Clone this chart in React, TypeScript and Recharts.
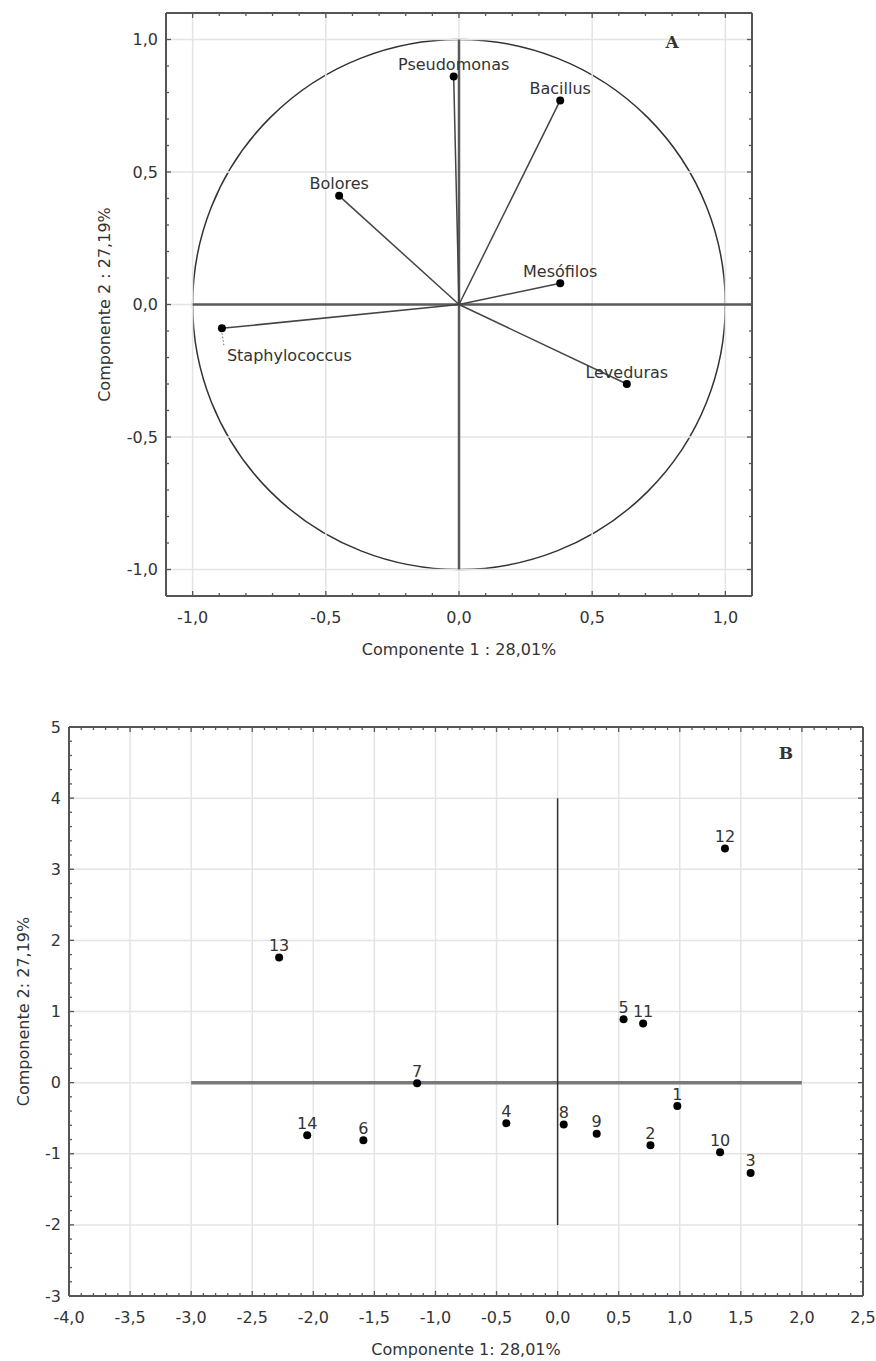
import React from 'react';
import { ScatterChart, Scatter, XAxis, YAxis, ReferenceLine, ReferenceArea, ReferenceDot, Label } from 'recharts';

const FONT = '"DejaVu Sans", "Liberation Sans", sans-serif';
const TEXT = '#333';
const FRAME = '#555';

// ---------- Chart A: loadings ----------
const loadingNames = ['Pseudomonas', 'Bacillus', 'Bolores', 'Mesófilos', 'Staphylococcus', 'Leveduras'];
const loadingPc1 = [-0.02, 0.38, -0.45, 0.38, -0.89, 0.63];
const loadingPc2 = [0.86, 0.77, 0.41, 0.08, -0.09, -0.3];
const majorTicksA = [-1, -0.5, 0, 0.5, 1];
const domainA: [number, number] = [-1.1, 1.1];

// ---------- Chart B: scores ----------
const sampleLabels = ['1', '2', '3', '4', '5', '6', '7', '8', '9', '10', '11', '12', '13', '14'];
const scorePc1 = [0.98, 0.76, 1.58, -0.42, 0.54, -1.59, -1.15, 0.05, 0.32, 1.33, 0.7, 1.37, -2.28, -2.05];
const scorePc2 = [-0.33, -0.88, -1.27, -0.57, 0.89, -0.81, -0.01, -0.59, -0.72, -0.98, 0.83, 3.29, 1.76, -0.74];
const majorTicksBx = [-4, -3.5, -3, -2.5, -2, -1.5, -1, -0.5, 0, 0.5, 1, 1.5, 2, 2.5];
const majorTicksBy = [-3, -2, -1, 0, 1, 2, 3, 4, 5];
const domainBx: [number, number] = [-4, 2.5];
const domainBy: [number, number] = [-3, 5];

const steps = (from: number, to: number, step: number) => {
  const out: number[] = [];
  const n = Math.round((to - from) / step);
  for (let i = 0; i <= n; i++) out.push(Math.round((from + i * step) * 1000) / 1000);
  return out;
};

const minorTicksA = steps(-1.1, 1.1, 0.1);
const minorTicksBx = steps(-4, 2.5, 0.1);
const minorTicksBy = steps(-3, 5, 0.2);

const fmt1 = (v: number) => v.toFixed(1).replace('.', ',');
const fmt0 = (v: number) => String(Math.round(v));

const loadingData = loadingNames.map((name, i) => ({ name, x: loadingPc1[i], y: loadingPc2[i] }));
const scoreData = sampleLabels.map((name, i) => ({ name, x: scorePc1[i], y: scorePc2[i] }));

type Side = 'bottom' | 'top' | 'left' | 'right';

const makeTick = (side: Side, majors: number[], fmt: (v: number) => string, showLabel: boolean) =>
  (props: any) => {
    const { x, y, payload } = props;
    const v = payload.value as number;
    const isMajor = majors.some((m) => Math.abs(m - v) < 1e-6);
    const len = isMajor ? 5 : 3;
    let x2 = x;
    let y2 = y;
    if (side === 'bottom') y2 = y - len;
    if (side === 'top') y2 = y + len;
    if (side === 'left') x2 = x + len;
    if (side === 'right') x2 = x - len;
    return (
      <g>
        <line x1={x} y1={y} x2={x2} y2={y2} stroke={FRAME} strokeWidth={1.3} />
        {showLabel && isMajor && side === 'bottom' && (
          <text x={x} y={y + 21} textAnchor="middle" dominantBaseline="central" fontFamily={FONT} fontSize={16} fill={TEXT}>
            {fmt(v)}
          </text>
        )}
        {showLabel && isMajor && side === 'left' && (
          <text x={x - 8} y={y} textAnchor="end" dominantBaseline="central" fontFamily={FONT} fontSize={16} fill={TEXT}>
            {fmt(v)}
          </text>
        )}
      </g>
    );
  };

const xTitle = (text: string) => (p: any) => {
  const vb = p.viewBox || { x: 0, y: 0, width: 0, height: 0 };
  return (
    <text x={vb.x + vb.width / 2} y={vb.y + 53} textAnchor="middle" dominantBaseline="central" fontFamily={FONT} fontSize={16} fill={TEXT}>
      {text}
    </text>
  );
};

const yTitle = (text: string, dx: number) => (p: any) => {
  const vb = p.viewBox || { x: 0, y: 0, width: 0, height: 0 };
  const cx = vb.x + vb.width + dx;
  const cy = vb.y + vb.height / 2;
  return (
    <text x={cx} y={cy} transform={`rotate(-90 ${cx} ${cy})`} textAnchor="middle" dominantBaseline="central" fontFamily={FONT} fontSize={16} fill={TEXT}>
      {text}
    </text>
  );
};

const LoadingShape = (props: any) => {
  const { cx, cy, payload } = props;
  if (payload.name === 'Staphylococcus') {
    return (
      <g>
        <circle cx={cx} cy={cy} r={4} fill="#000" />
        <line x1={cx} y1={cy + 5} x2={cx + 2} y2={cy + 17} stroke="#666" strokeWidth={1} strokeDasharray="1.5 2" />
        <text x={cx + 5} y={cy + 27} textAnchor="start" dominantBaseline="central" fontFamily={FONT} fontSize={16} fill={TEXT}>
          {payload.name}
        </text>
      </g>
    );
  }
  return (
    <g>
      <circle cx={cx} cy={cy} r={4} fill="#000" />
      <text x={cx} y={cy - 12} textAnchor="middle" dominantBaseline="central" fontFamily={FONT} fontSize={16} fill={TEXT}>
        {payload.name}
      </text>
    </g>
  );
};

const ScoreShape = (props: any) => {
  const { cx, cy, payload } = props;
  return (
    <g>
      <circle cx={cx} cy={cy} r={4} fill="#000" />
      <text x={cx} y={cy - 12} textAnchor="middle" dominantBaseline="central" fontFamily={FONT} fontSize={16} fill={TEXT}>
        {payload.name}
      </text>
    </g>
  );
};

const letterShape = (letter: string) => (p: any) => (
  <text x={p.cx} y={p.cy} textAnchor="middle" dominantBaseline="central" fontFamily='"DejaVu Serif", "Liberation Serif", serif' fontWeight="bold" fontSize={17} fill={TEXT}>
    {letter}
  </text>
);

const circleShape = (p: any) => (
  <ellipse cx={p.x + p.width / 2} cy={p.y + p.height / 2} rx={p.width / 2} ry={p.height / 2} fill="none" stroke="#333" strokeWidth={1.5} />
);

const axisLine = { stroke: FRAME, strokeWidth: 2 };

function ChartA() {
  return (
    <ScatterChart width={876} height={680} margin={{ top: 12, right: 123, bottom: 0, left: 100 }}>
      <XAxis type="number" dataKey="x" domain={domainA} ticks={minorTicksA} interval={0} allowDataOverflow
        height={84} tickSize={0} tickMargin={0} tickLine={false} axisLine={axisLine}
        tick={makeTick('bottom', majorTicksA, fmt1, true)}>
        <Label content={xTitle('Componente 1 : 28,01%')} />
      </XAxis>
      <XAxis xAxisId="top" orientation="top" type="number" dataKey="x" domain={domainA} ticks={minorTicksA} interval={0} allowDataOverflow
        height={1} tickSize={0} tickMargin={0} tickLine={false} axisLine={axisLine}
        tick={makeTick('top', majorTicksA, fmt1, false)} />
      <YAxis type="number" dataKey="y" domain={domainA} ticks={minorTicksA} interval={0} allowDataOverflow
        width={66} tickSize={0} tickMargin={0} tickLine={false} axisLine={axisLine}
        tick={makeTick('left', majorTicksA, fmt1, true)}>
        <Label content={yTitle('Componente 2 : 27,19%', -62)} />
      </YAxis>
      <YAxis yAxisId="right" orientation="right" type="number" dataKey="y" domain={domainA} ticks={minorTicksA} interval={0} allowDataOverflow
        width={1} tickSize={0} tickMargin={0} tickLine={false} axisLine={axisLine}
        tick={makeTick('right', majorTicksA, fmt1, false)} />

      {majorTicksA.map((v) => (
        <ReferenceLine key={`gx${v}`} x={v} stroke="#e4e4e4" strokeWidth={1.5} />
      ))}
      {majorTicksA.map((v) => (
        <ReferenceLine key={`gy${v}`} y={v} stroke="#e4e4e4" strokeWidth={1.5} />
      ))}

      <ReferenceLine segment={[{ x: -1, y: 0 }, { x: 1.1, y: 0 }]} stroke="#5a5a5a" strokeWidth={2.5} />
      <ReferenceLine segment={[{ x: 0, y: -1 }, { x: 0, y: 1 }]} stroke="#5a5a5a" strokeWidth={2.5} />
      <ReferenceArea x1={-1} x2={1} y1={-1} y2={1} shape={circleShape} />

      {loadingData.map((d) => (
        <ReferenceLine key={`v${d.name}`} segment={[{ x: 0, y: 0 }, { x: d.x, y: d.y }]} stroke="#444" strokeWidth={1.5} />
      ))}

      <ReferenceDot x={0.8} y={0.99} r={0} shape={letterShape('A')} />

      <Scatter data={loadingData} isAnimationActive={false} shape={LoadingShape} />
    </ScatterChart>
  );
}

function ChartB() {
  return (
    <ScatterChart width={876} height={681} margin={{ top: 46, right: 12, bottom: 0, left: 5 }}>
      <XAxis type="number" dataKey="x" domain={domainBx} ticks={minorTicksBx} interval={0} allowDataOverflow
        height={65} tickSize={0} tickMargin={0} tickLine={false} axisLine={axisLine}
        tick={makeTick('bottom', majorTicksBx, fmt1, true)}>
        <Label content={xTitle('Componente 1: 28,01%')} />
      </XAxis>
      <XAxis xAxisId="top" orientation="top" type="number" dataKey="x" domain={domainBx} ticks={minorTicksBx} interval={0} allowDataOverflow
        height={1} tickSize={0} tickMargin={0} tickLine={false} axisLine={axisLine}
        tick={makeTick('top', majorTicksBx, fmt1, false)} />
      <YAxis type="number" dataKey="y" domain={domainBy} ticks={minorTicksBy} interval={0} allowDataOverflow
        width={64} tickSize={0} tickMargin={0} tickLine={false} axisLine={axisLine}
        tick={makeTick('left', majorTicksBy, fmt0, true)}>
        <Label content={yTitle('Componente 2: 27,19%', -46)} />
      </YAxis>
      <YAxis yAxisId="right" orientation="right" type="number" dataKey="y" domain={domainBy} ticks={minorTicksBy} interval={0} allowDataOverflow
        width={1} tickSize={0} tickMargin={0} tickLine={false} axisLine={axisLine}
        tick={makeTick('right', majorTicksBy, fmt0, false)} />

      {majorTicksBx.map((v) => (
        <ReferenceLine key={`gx${v}`} x={v} stroke="#e4e4e4" strokeWidth={1.5} />
      ))}
      {majorTicksBy.map((v) => (
        <ReferenceLine key={`gy${v}`} y={v} stroke="#e4e4e4" strokeWidth={1.5} />
      ))}

      <ReferenceLine segment={[{ x: -3, y: 0 }, { x: 2, y: 0 }]} stroke="#7a7a7a" strokeWidth={3.5} />
      <ReferenceLine segment={[{ x: 0, y: -2 }, { x: 0, y: 4 }]} stroke="#333" strokeWidth={1.5} />

      <ReferenceDot x={1.87} y={4.63} r={0} shape={letterShape('B')} />

      <Scatter data={scoreData} isAnimationActive={false} shape={ScoreShape} />
    </ScatterChart>
  );
}

export default function App() {
  return (
    <div style={{ position: 'absolute', left: 0, top: 0, width: 876, height: 1361, background: '#fff' }}>
      <div style={{ position: 'absolute', left: 0, top: 0 }}>
        <ChartA />
      </div>
      <div style={{ position: 'absolute', left: 0, top: 680 }}>
        <ChartB />
      </div>
    </div>
  );
}
